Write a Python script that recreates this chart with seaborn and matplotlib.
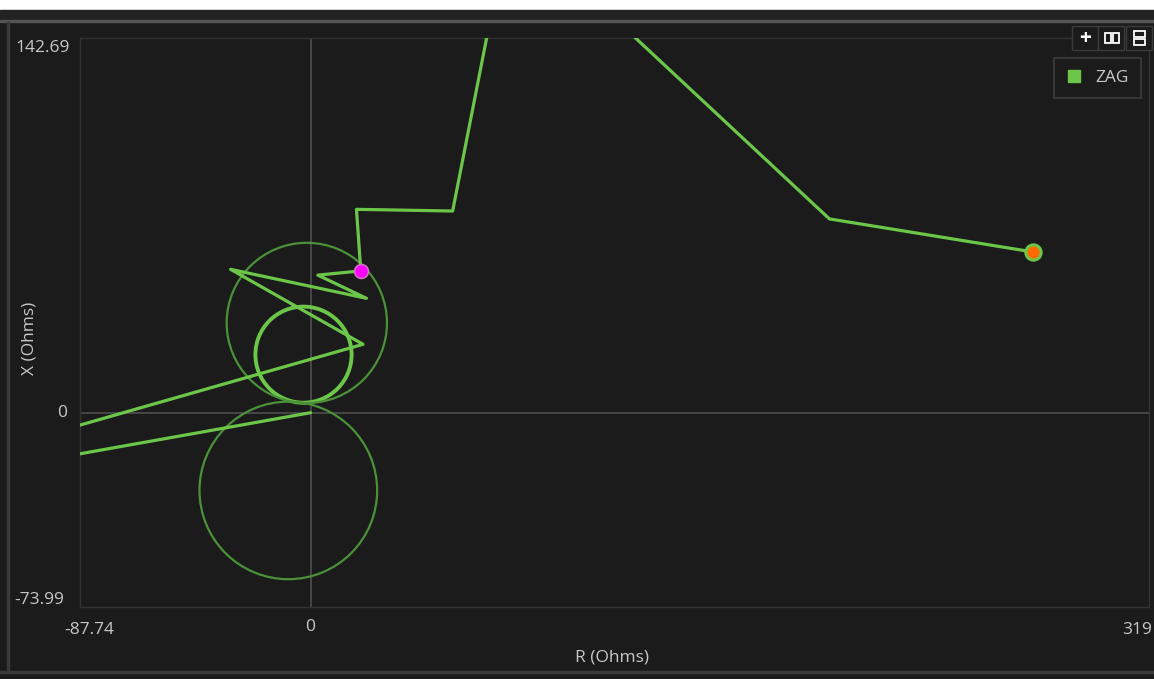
import matplotlib
matplotlib.use("Agg")
import matplotlib.pyplot as plt
import seaborn as sns
import pandas as pd
from matplotlib.patches import Circle, Rectangle
from matplotlib.lines import Line2D

# ----------------------------
# DATA
# ----------------------------
r_path = [0.0, -120.0, -120.0, 19.96, -30.45, 21.25, 2.74, 19.1, 17.45, 54.05, 75.75, 197.4, 274.9]
x_path = [0.0, -21.4, -13.93, 26.05, 54.6, 43.56, 52.4, 54.0, 77.45, 76.8, 187.4, 73.8, 61.2]
series_name = "ZAG"

cursor_r, cursor_x = 19.1, 54.0
end_r, end_x = 274.9, 61.2

# zone circles: centre R, centre X, radius
circle_r = [-2.7, -1.44, -8.48]
circle_x = [22.1, 34.2, -29.6]
circle_rad = [18.3, 30.5, 33.8]
circle_bold = [True, False, False]

x_min, x_max = -87.74, 319
y_min, y_max = -73.99, 142.69
x_tick_labels = ["-87.74", "0", "319"]
y_tick_labels = ["142.69", "0", "-73.99"]

# ----------------------------
# STYLE
# ----------------------------
BG = "#1b1b1b"
GREEN = "#6cc64a"
GREEN_DIM = "#4b913a"
TXT = "#c8c8c8"

sns.set_theme(style="dark")
plt.rcParams['font.family'] = ["Open Sans", "DejaVu Sans"]

fig = plt.figure(figsize=(11.54, 6.79), dpi=100, facecolor=BG)
W, H = 1154, 679

def px(x0, y0, w, h):
    # pixel box (top-left origin) -> figure fraction rect
    return (x0 / W, 1 - (y0 + h) / H, w / W, h / H)

def add_box(box, **kw):
    fig.patches.append(Rectangle(box[:2], box[2], box[3], transform=fig.transFigure, **kw))

# window chrome
add_box(px(0, 0, W, 10), color="white", zorder=0)
add_box(px(0, 10, W, 10), color="#222222", zorder=0)
add_box(px(0, 20, W, 2), color="#555555", zorder=0)
add_box(px(7, 22, 2, 650), color="#3a3a3a", zorder=0)
add_box(px(0, 671, W, 2), color="#3a3a3a", zorder=0)

ax = fig.add_axes([80 / W, 1 - 607 / H, 1069 / W, 569 / H])
ax.set_facecolor(BG)

# zero axes
ax.axhline(0, color="#4a4a4a", lw=1.3, zorder=1)
ax.axvline(0, color="#4a4a4a", lw=1.3, zorder=1)

# zone circles
for cr, cx, rad, bold in zip(circle_r, circle_x, circle_rad, circle_bold):
    ax.add_patch(Circle((cr, cx), rad, fill=False,
                        edgecolor=GREEN if bold else GREEN_DIM,
                        lw=2.8 if bold else 1.6, zorder=2))

# impedance trajectory
df = pd.DataFrame({"R": r_path, "X": x_path})
sns.lineplot(data=df, x="R", y="X", sort=False, estimator=None, color=GREEN, lw=2.3,
             ax=ax, zorder=3)

ax.plot([cursor_r], [cursor_x], "o", ms=10, mfc="#ff00ff", mec="#d070c0", mew=1.2, zorder=4)
ax.plot([end_r], [end_x], "o", ms=11, mfc="#ff6a00", mec=GREEN, mew=2.2, zorder=4)

ax.set_xlim(x_min, x_max)
ax.set_ylim(y_min, y_max)
ax.set_xticks([])
ax.set_yticks([])
ax.set_xlabel("")
ax.set_ylabel("")
for s in ax.spines.values():
    s.set_color("#333333")
    s.set_linewidth(1.0)

# tick labels
fs = 12.5
fig.text(15 / W, 1 - 48 / H, y_tick_labels[0], color=TXT, fontsize=fs, ha="left", va="center")
fig.text(67 / W, 1 - 413 / H, y_tick_labels[1], color=TXT, fontsize=fs, ha="right", va="center")
fig.text(14 / W, 1 - 600 / H, y_tick_labels[2], color=TXT, fontsize=fs, ha="left", va="center")
fig.text(89 / W, 1 - 630 / H, x_tick_labels[0], color=TXT, fontsize=fs, ha="center", va="center")
fig.text(310 / W, 1 - 627 / H, x_tick_labels[1], color=TXT, fontsize=fs, ha="center", va="center")
fig.text(1152 / W, 1 - 630 / H, x_tick_labels[2], color=TXT, fontsize=fs, ha="right", va="center")

fig.text(612 / W, 1 - 657 / H, "R (Ohms)", color=TXT, fontsize=fs, ha="center", va="center")
fig.text(30 / W, 1 - 338 / H, "X (Ohms)", color=TXT, fontsize=fs, ha="center", va="center",
         rotation=90)

# legend
handle = Line2D([], [], ls="none", marker="s", ms=9, mfc=GREEN, mec=GREEN)
leg = ax.legend([handle], [series_name], loc="upper right", bbox_to_anchor=(1141 / W, 1 - 58 / H),
                bbox_transform=fig.transFigure, frameon=True, fontsize=fs, borderaxespad=0,
                handletextpad=0.8, borderpad=0.7, fancybox=False, handlelength=0.9)
leg.get_frame().set_facecolor(BG)
leg.get_frame().set_edgecolor("#444444")
leg.get_frame().set_linewidth(1.2)
for t in leg.get_texts():
    t.set_color(TXT)

# toolbar buttons
for bx in [1072, 1098, 1126]:
    add_box(px(bx, 26, 26, 24), facecolor="#1b1b1b", edgecolor="#3a3a3a", lw=1, zorder=5)
fig.text(1085 / W, 1 - 38 / H, "+", color="white", fontsize=15, fontweight="bold",
         ha="center", va="center", zorder=6)
for rx in [1105, 1113]:
    add_box(px(rx, 33, 6, 10), facecolor="none", edgecolor="white", lw=1.3, zorder=6)
for ry in [31, 39]:
    add_box(px(1134, ry, 11, 6), facecolor="none", edgecolor="white", lw=1.3, zorder=6)

fig.savefig("out.png", dpi=100, facecolor=BG)
